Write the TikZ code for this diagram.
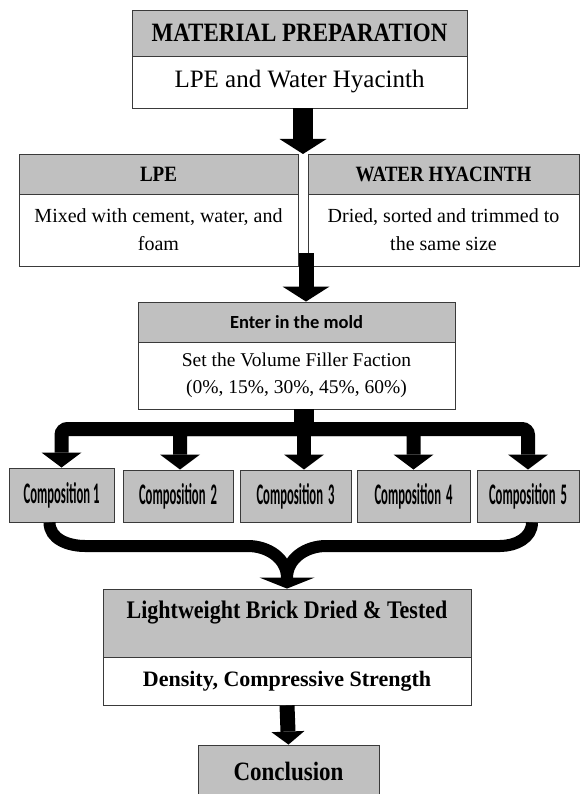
\documentclass[tikz,border=0pt]{standalone}
\usepackage{graphicx}
\usepackage{fontspec}
\setmainfont{Liberation Serif}
\newfontfamily\calfont{Carlito}
\newfontfamily\compfont{Carlito}[FakeStretch=0.55]
\usetikzlibrary{arrows.meta}
\definecolor{hdr}{HTML}{C0C0C0}
\definecolor{edge}{HTML}{3A3A3A}
\newcommand{\tallA}[1]{\scalebox{1}[1.15]{#1}}
\newcommand{\tallB}[1]{\scalebox{1}[1.3]{#1}}
\tikzset{
  cell/.style={draw=edge, line width=0.9pt, inner sep=0pt, align=center, fill=white},
  hd/.style={cell, fill=hdr},
  comp/.style={hd, minimum height=54pt, font=\compfont\bfseries\fontsize{23}{26}\selectfont},
  arrA/.style={line width=20pt, -{Triangle[width=47pt,length=15pt,line width=0pt]}},
  arrB/.style={line width=15pt, -{Triangle[width=47pt,length=15pt,line width=0pt]}},
  branch/.style={line width=14pt, rounded corners=6pt, -{Triangle[width=40pt,length=15pt,line width=0pt]}},
  mergeline/.style={line width=12pt},
  mergetip/.style={line width=12pt, -{Triangle[width=55pt,length=11pt,line width=0pt]}},
  arrC/.style={line width=15pt, -{Triangle[width=33pt,length=13pt,line width=0pt]}}
}
\begin{document}
\begin{tikzpicture}[x=1pt,y=-1pt]
\useasboundingbox (0,0) rectangle (580,794);
\clip (0,0) rectangle (580,794);
\fill[white] (0,0) rectangle (580,794);

% material preparation
\node[hd, minimum width=335pt, minimum height=46pt, font=\fontsize{23}{27}\selectfont\bfseries] (mpH) at (299.5,33)
  {\tallA{MATERIAL PREPARATION}};
\node[cell, minimum width=335pt, minimum height=52pt, font=\fontsize{25}{29}\selectfont] (mpB) at (299.5,82)
  {LPE and Water Hyacinth};

% LPE / water hyacinth
\node[hd, minimum width=279pt, minimum height=40pt, font=\fontsize{19}{23}\selectfont\bfseries] (lpeH) at (158.5,174)
  {\tallA{LPE}};
\node[cell, minimum width=279pt, minimum height=72pt, font=\fontsize{20}{28}\selectfont] (lpeB) at (158.5,230)
  {Mixed with cement, water, and\\ foam};
\node[hd, minimum width=271pt, minimum height=40pt, font=\fontsize{19}{23}\selectfont\bfseries] (whH) at (443.5,174)
  {\tallA{WATER HYACINTH}};
\node[cell, minimum width=271pt, minimum height=72pt, font=\fontsize{20}{28}\selectfont] (whB) at (443.5,230)
  {Dried, sorted and trimmed to\\ the same size};

% mold
\node[hd, minimum width=317pt, minimum height=40pt, font=\calfont\bfseries\fontsize{18.5}{22}\selectfont] (moldH) at (296.5,322)
  {Enter in the mold};
\node[cell, minimum width=317pt, minimum height=67pt, font=\fontsize{19.5}{27}\selectfont] (moldB) at (296.5,375.5)
  {Set the Volume Filler Faction\\ (0\%, 15\%, 30\%, 45\%, 60\%)};

% compositions
\node[comp, minimum width=105pt] (c1) at (61.5,495) {\tallB{Composition 1}};
\node[comp, minimum width=110pt, minimum height=52pt] (c2) at (178,496) {\raisebox{4pt}{\tallB{Composition\hspace{5pt}2}}};
\node[comp, minimum width=111pt, minimum height=52pt] (c3) at (295.5,496) {\raisebox{4pt}{\tallB{Composition\hspace{5pt}3}}};
\node[comp, minimum width=113pt, minimum height=52pt] (c4) at (413.5,496) {\raisebox{4pt}{\tallB{Composition\hspace{5pt}4}}};
\node[comp, minimum width=102pt, minimum height=52pt] (c5) at (528,496) {\raisebox{4pt}{\tallB{Composition\hspace{5pt}5}}};

% lightweight brick
\node[hd, minimum width=368pt, minimum height=68pt] (lwH) at (287,623) {};
\node[inner sep=0pt, font=\fontsize{22}{26}\selectfont\bfseries] (lwT) at (287,613)
  {\tallA{Lightweight Brick Dried \& Tested}};
\node[cell, minimum width=368pt, minimum height=48pt, font=\fontsize{22}{26}\selectfont\bfseries] (lwB) at (287,681)
  {Density, Compressive Strength};

% conclusion
\node[hd, minimum width=181pt, minimum height=52pt, font=\fontsize{23}{27}\selectfont\bfseries] (con) at (288.5,771)
  {\tallA{Conclusion}};

% arrows
\coordinate (g1) at (303,154);
\draw[arrA] (mpB.south -| g1) -- (g1);

\coordinate (g2) at (306,253);
\draw[arrB] (g2) -- (g2 |- moldH.north);

\coordinate (hub) at (304,429);
\draw[line width=20pt] (moldB.south -| hub) -- ([yshift=-4pt]hub);
\draw[branch] (hub) -| (c1.north);
\draw[branch] (hub) -| ([xshift=2pt]c2.north);
\draw[branch] (hub) -- (hub |- c3.north);
\draw[branch] (hub) -| (c4.north);
\draw[branch] (hub) -| (c5.north);

% merge
\coordinate (m) at (287,578);
\draw[mergeline] ([xshift=-12pt]c1.south) to[out=-90,in=180] (85,546) -- (248,546) to[out=0,in=90] (m);
\draw[mergeline] ([xshift=4pt]c5.south) to[out=-90,in=0] (500,546) -- (326,546) to[out=180,in=90] (m);
\draw[mergetip] (m) -- (lwH.north);

\draw[arrC] (lwB.south) -- (con.north);
\end{tikzpicture}
\end{document}
